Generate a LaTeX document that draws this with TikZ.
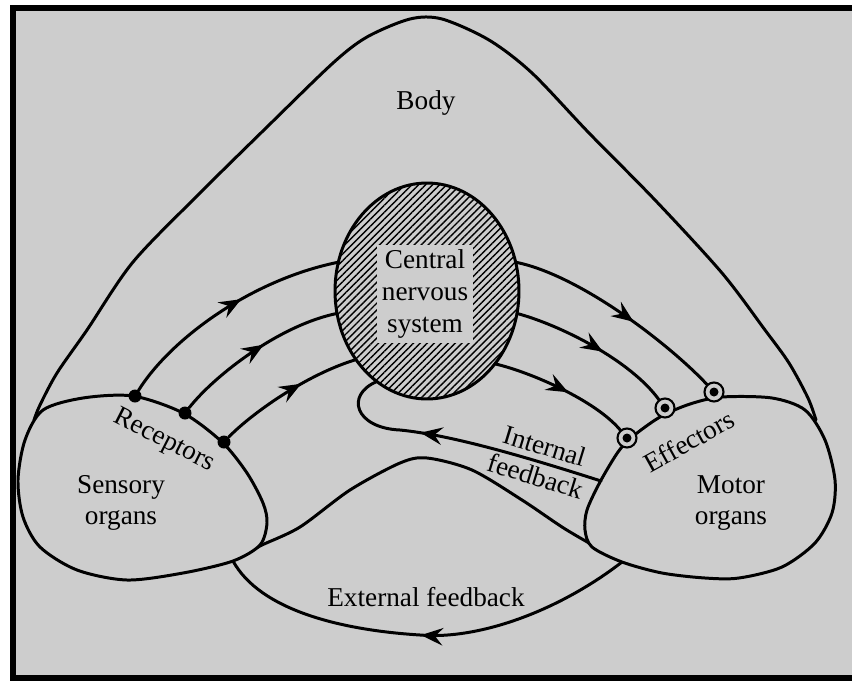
\documentclass[tikz,border=0pt]{standalone}
\usepackage{fontspec}
\setmainfont{Liberation Serif}
\usetikzlibrary{arrows.meta,shapes.geometric,decorations.markings,patterns.meta}
\definecolor{bggray}{RGB}{205,205,205}

\begin{document}
\begin{tikzpicture}[x=0.02cm, y=-0.02cm,
  nerve/.style={line width=1.7pt, line cap=round},
  midarrow/.style={postaction={decorate}, decoration={markings, mark=at position #1 with {\arrow{Stealth[length=12.5pt,width=10pt,inset=4.5pt]}}}},
  lbl/.style={font=\fontsize{15.5}{18}\selectfont, align=center, inner sep=0pt},
  receptor/.style={circle, fill, minimum size=0.26cm, inner sep=0pt},
  effector/.style={circle, draw, line width=1.2pt, fill=bggray, minimum size=0.38cm, inner sep=0pt,
    path picture={\fill[black] (path picture bounding box.center) circle (0.09cm);}}]
\useasboundingbox (0,0) rectangle (852,680);
% Frame
\fill[white] (0,0) rectangle (852,680);
\fill[bggray] (13,8) rectangle (852,678);
\draw[line width=0.12cm] (860,8) -- (13,8) -- (13,678) -- (860,678);
% Body outline
\draw[nerve] plot[smooth] coordinates {(34,420) (40,405) (57,373) (87,330) (133,262) (200,193) (267,127)
  (333,63) (367,37) (410,19) (442,19) (489,40) (532,73) (589,133) (655,200) (722,273) (765,330)
  (789,363) (808,398) (816,420)};
\draw[nerve] plot[smooth] coordinates {(250,552) (262,545) (300,527) (350,490) (400,463) (427,458)
  (472,470) (522,500) (562,527) (589,543) (600,549)};
% External feedback
\coordinate (sens-out) at (233,561);
\coordinate (mot-out) at (622,562);
\draw[nerve, midarrow=0.51] (mot-out) .. controls (560,610) and (480,640) .. (420,635)
  .. controls (340,630) and (260,610) .. (sens-out);
% Organs
\filldraw[nerve, fill=bggray] plot[smooth cycle] coordinates {(133,396) (83,398) (43,410) (25,440) (18,480)
  (23,517) (40,547) (77,570) (127,580) (183,573) (233,561) (260,545) (267,523) (263,503) (247,473)
  (222,442) (183,413)};
\filldraw[nerve, fill=bggray] plot[smooth cycle] coordinates {(722,397) (772,398) (805,410) (825,440)
  (835,480) (832,513) (815,543) (782,567) (739,578) (705,578) (662,573) (622,562) (592,547) (585,530)
  (587,510) (600,482) (618,452) (632,437) (660,417) (690,404)};
% Central nervous system
\node[ellipse, draw, line width=1.7pt, minimum width=3.68cm, minimum height=4.32cm, outer sep=0pt,
  pattern={Lines[angle=45,distance=2.8pt,line width=0.8pt]}] (cns) at (427,291) {};
\node[lbl, fill=bggray, minimum width=1.92cm, minimum height=1.96cm] (cnslbl) at (425,294) {Central\\nervous\\system};
% Receptors and effectors
\node[receptor] (r1) at (135,396) {};
\node[receptor] (r2) at (185,413) {};
\node[receptor] (r3) at (224,442) {};
\node[effector] (e1) at (714,392) {};
\node[effector] (e2) at (665,408) {};
\node[effector] (e3) at (627,438) {};
% Afferent and efferent nerves
\draw[nerve, midarrow=0.57] (r1) .. controls (170,340) and (250,280) .. (cns.162);
\draw[nerve, midarrow=0.55] (r2) .. controls (215,375) and (280,325) .. (cns.194);
\draw[nerve, midarrow=0.6] (r3) .. controls (250,415) and (305,375) .. (cns.224);
\draw[nerve, midarrow=0.58] (cns.18) .. controls (580,275) and (670,345) .. (e1);
\draw[nerve, midarrow=0.56] (cns.346) .. controls (560,325) and (630,360) .. (e2);
\draw[nerve, midarrow=0.55] (cns.313) .. controls (530,372) and (595,400) .. (e3);
% Internal feedback
\coordinate (mot-in) at (601,481);
\draw[nerve, midarrow=0.64] (mot-in) .. controls (520,455) and (450,435) .. (400,430)
  .. controls (355,428) and (345,395) .. (cns.241);
% Labels
\node[lbl] (body) at (426,103) {Body};
\node[lbl] (sens) at (121,503) {Sensory\\organs};
\node[lbl] (mot) at (731,503) {Motor\\organs};
\node[lbl, rotate=-27] (rec) at (164,441) {Receptors};
\node[lbl, rotate=29] (eff) at (689,441) {Effectors};
\node[lbl, rotate=-17] (intfb) at (540,461) {Internal\\feedback};
\node[lbl] (extfb) at (426,597) {External feedback};
\end{tikzpicture}
\end{document}
